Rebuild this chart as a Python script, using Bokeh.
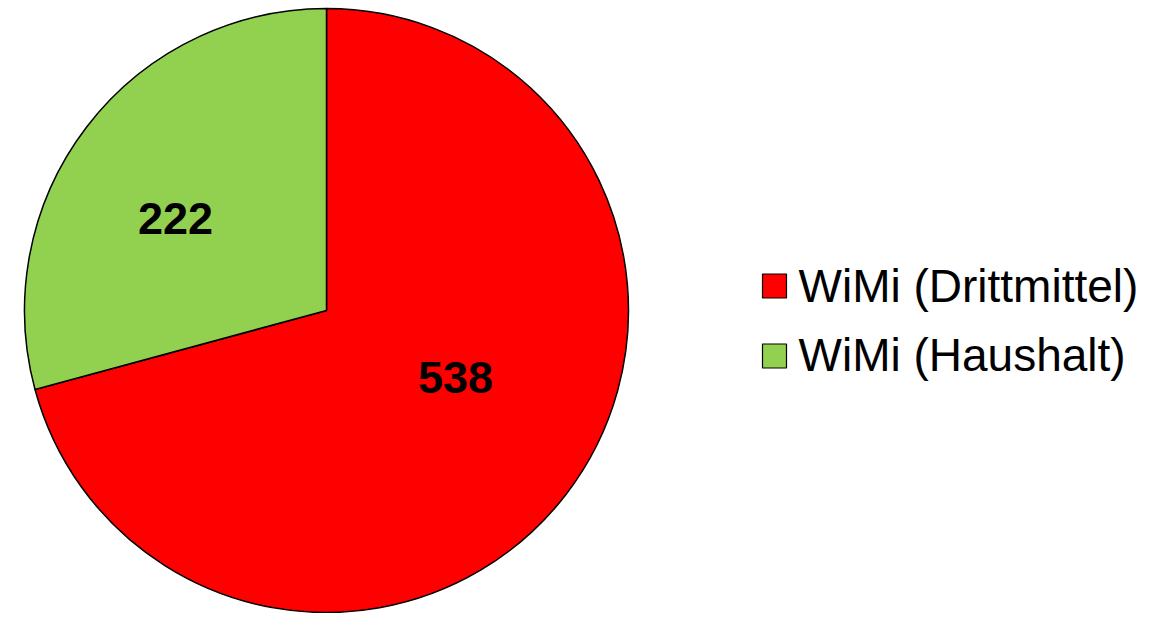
import math
from bokeh.plotting import figure
from bokeh.models import Range1d, ColumnDataSource
from bokeh.core.properties import value
from bokeh.embed import file_html
from bokeh.resources import INLINE

categories = ["WiMi (Drittmittel)", "WiMi (Haushalt)"]
values = [538, 222]
colors = ["#FF0000", "#92D050"]

W, H = 1146, 613

def Y(sy):
    return H - sy

p = figure(width=W, height=H, output_backend="svg", toolbar_location=None,
           x_range=Range1d(0, W), y_range=Range1d(0, H),
           min_border=0, outline_line_color=None)
p.axis.visible = False
p.grid.visible = False
p.background_fill_color = "white"
p.border_fill_color = "white"

cx, cy, r = 326, Y(310), 302
total = sum(values)
red_frac = values[0] / total
green_frac = values[1] / total
starts = [math.pi / 2 - 2 * math.pi * red_frac, math.pi / 2]
ends = [math.pi / 2, math.pi / 2 + 2 * math.pi * green_frac]

src = ColumnDataSource(dict(x=[cx, cx], y=[cy, cy], start=starts, end=ends,
                            color=colors, cat=categories))
p.wedge(x="x", y="y", radius=r, start_angle="start", end_angle="end",
        fill_color="color", line_color="black", line_width=1.5, source=src)

# value labels (centered)
lab_x = [455, 175]
lab_y = [Y(377), Y(218)]
p.text(x=lab_x, y=lab_y, text=[str(v) for v in values],
       text_font=value("Liberation Sans"), text_font_style="bold",
       text_font_size="45px", text_align="center", text_baseline="middle",
       text_color="black")

# legend
sq_x = [774, 774]
sq_y = [Y(285.5), Y(355.5)]
p.rect(x=sq_x, y=sq_y, width=24, height=24, fill_color=colors,
       line_color="black", line_width=1.2)
p.text(x=[798, 798], y=[Y(285), Y(354)], text=categories,
       text_font=value("Liberation Sans"), text_font_size="46px",
       text_align="left", text_baseline="middle", text_color="black")

open("out.html", "w").write(file_html(p, INLINE))
